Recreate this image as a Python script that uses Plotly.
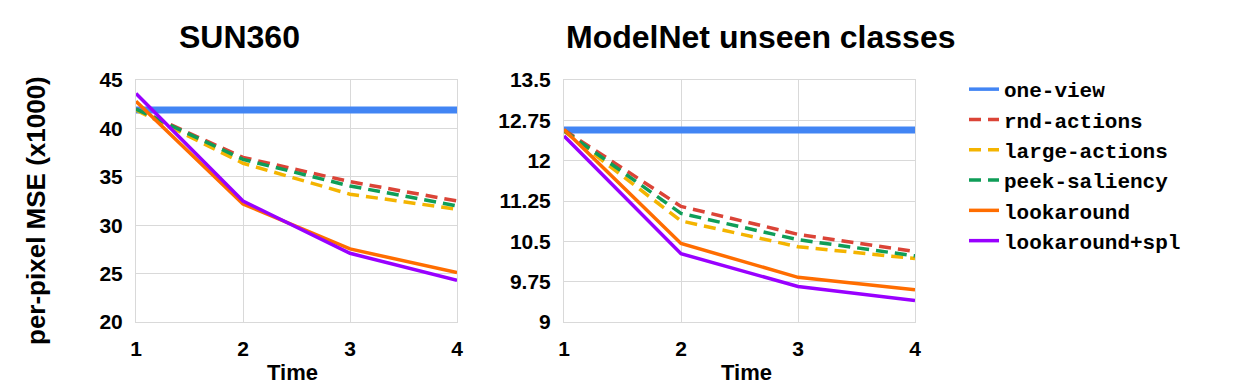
import plotly.graph_objects as go

# --- data ---------------------------------------------------------------
time_steps = [1, 2, 3, 4]

series_names = ["one-view", "rnd-actions", "large-actions",
                "peek-saliency", "lookaround", "lookaround+spl"]

sun360 = {
    "one-view":       [41.9, 41.9, 41.9, 41.9],
    "rnd-actions":    [42.0, 37.0, 34.5, 32.5],
    "large-actions":  [41.9, 36.4, 33.2, 31.65],
    "peek-saliency":  [42.0, 36.8, 34.05, 32.0],
    "lookaround":     [42.8, 32.2, 27.55, 25.1],
    "lookaround+spl": [43.6, 32.5, 27.1, 24.3],
}

modelnet = {
    "one-view":       [12.57, 12.57, 12.57, 12.57],
    "rnd-actions":    [12.57, 11.15, 10.63, 10.31],
    "large-actions":  [12.55, 10.88, 10.40, 10.18],
    "peek-saliency":  [12.56, 11.02, 10.53, 10.23],
    "lookaround":     [12.58, 10.46, 9.83, 9.60],
    "lookaround+spl": [12.46, 10.27, 9.66, 9.40],
}

sun_ticks = [20, 25, 30, 35, 40, 45]
mn_ticks = [9, 9.75, 10.5, 11.25, 12, 12.75, 13.5]
mn_ticktext = ["9", "9.75", "10.5", "11.25", "12", "12.75", "13.5"]

# --- styles -------------------------------------------------------------
colors = {
    "one-view": "#4285F4",
    "rnd-actions": "#DB4437",
    "large-actions": "#F4B400",
    "peek-saliency": "#0F9D58",
    "lookaround": "#FF6D00",
    "lookaround+spl": "#9900FF",
}
dashed = {"rnd-actions", "large-actions", "peek-saliency"}

W, H = 1256, 390
OFF = 8  # page body margin offsets the figure by 8px
SANS = "Liberation Sans, Arial, sans-serif"
MONO = "Liberation Mono, Courier New, monospace"

def px_x(p):
    return (p - OFF) / W

def px_y(p):
    return 1 - (p - OFF) / H

def line_style(name, legend=False):
    width = 7 if (name == "one-view" and not legend) else 3.5
    dash = "12px,7px" if name in dashed else "solid"
    return dict(color=colors[name], width=width, dash=dash)

fig = go.Figure()

for xa, ya, data in [("x", "y", sun360), ("x2", "y2", modelnet)]:
    for name in series_names:
        fig.add_trace(go.Scatter(x=time_steps, y=data[name], name=name,
                                 mode="lines", xaxis=xa, yaxis=ya,
                                 line=line_style(name),
                                 legendgroup=name, showlegend=False))

# legend entries (thin samples, as in the original)
for name in series_names:
    fig.add_trace(go.Scatter(x=[None], y=[None], name=name, mode="lines",
                             xaxis="x", yaxis="y", line=line_style(name, legend=True),
                             legendgroup=name, showlegend=True))

axis_common = dict(showgrid=True, gridcolor="#d9d9d9", gridwidth=1,
                   showline=True, linecolor="#d9d9d9", linewidth=1, mirror=True,
                   zeroline=False, ticks="outside", ticklen=8,
                   tickcolor="rgba(0,0,0,0)",
                   tickfont=dict(family=SANS, size=21, color="black", weight="bold"))

ydom = [px_y(322), px_y(80)]

fig.update_layout(
    width=W, height=H,
    margin=dict(l=0, r=0, t=0, b=0, autoexpand=False),
    plot_bgcolor="white", paper_bgcolor="white",
    xaxis=dict(domain=[px_x(136), px_x(457)], range=[1, 4],
               tickvals=time_steps, anchor="y", **axis_common),
    yaxis=dict(domain=ydom, range=[20, 45], tickvals=sun_ticks,
               anchor="x", **axis_common),
    xaxis2=dict(domain=[px_x(564), px_x(915)], range=[1, 4],
                tickvals=time_steps, anchor="y2", **axis_common),
    yaxis2=dict(domain=ydom, range=[9, 13.5], tickvals=mn_ticks,
                ticktext=mn_ticktext, anchor="x2", **axis_common),
    legend=dict(x=px_x(964), y=px_y(69), xanchor="left", yanchor="top",
                font=dict(family=MONO, size=21, color="black", weight="bold"),
                tracegroupgap=0, bgcolor="rgba(0,0,0,0)"),
    showlegend=True,
)

annots = [
    dict(text="SUN360", x=px_x(240), y=px_y(37), size=32),
    dict(text="ModelNet unseen classes", x=px_x(760), y=px_y(37), size=32),
    dict(text="Time", x=px_x(292), y=px_y(372), size=22),
    dict(text="Time", x=px_x(746), y=px_y(372), size=22),
]
for a in annots:
    fig.add_annotation(text=a["text"], x=a["x"], y=a["y"], xref="paper", yref="paper",
                       xanchor="center", yanchor="middle", showarrow=False,
                       font=dict(family=SANS, size=a["size"], color="black", weight="bold"))

fig.add_annotation(text="per-pixel MSE (x1000)", x=px_x(36), y=px_y(211),
                   xref="paper", yref="paper", xanchor="center", yanchor="middle",
                   showarrow=False, textangle=-90,
                   font=dict(family=SANS, size=26, color="black", weight="bold"))

fig.write_html("out.html")
